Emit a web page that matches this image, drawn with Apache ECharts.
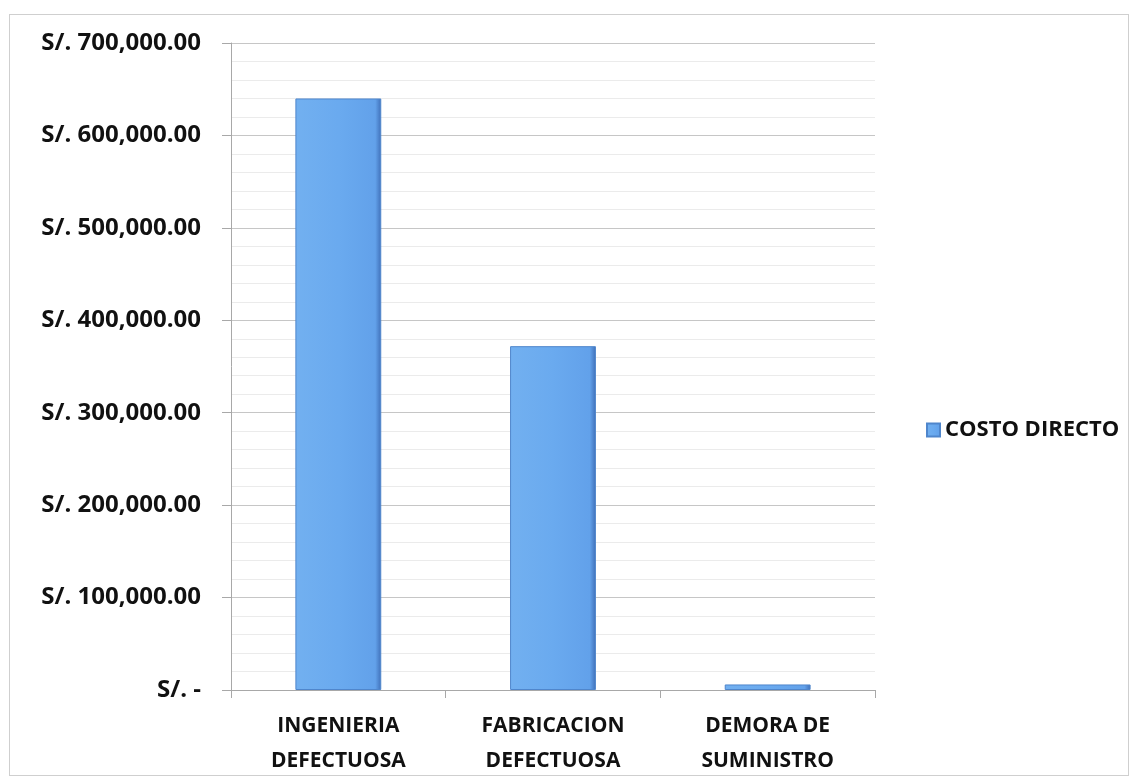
<!DOCTYPE html>
<html>
<head>
<meta charset="utf-8">
<script src="https://cdn.jsdelivr.net/npm/echarts@6/dist/echarts.min.js"></script>
<style>
  html, body { margin: 0; padding: 0; background: #fff; }
  #frame { position: absolute; left: 9px; top: 14px; width: 1120px; height: 762px; border: 1px solid #cfcfcf; box-sizing: border-box; }
  #chart { position: absolute; left: 0; top: 0; width: 1137px; height: 780px; }
</style>
</head>
<body>
<div id="frame"></div>
<div id="chart"></div>
<script>
var categories = ['INGENIERIA\nDEFECTUOSA', 'FABRICACION\nDEFECTUOSA', 'DEMORA DE\nSUMINISTRO'];
var costoDirecto = [640000, 372000, 6000];
var seriesName = 'COSTO DIRECTO';

var chart = echarts.init(document.getElementById('chart'));
var option = {
    animation: false,
    textStyle: { fontFamily: 'Open Sans' },
    grid: { left: 231, right: 262, top: 43, bottom: 90 },
    legend: {
        orient: 'vertical',
        left: 921,
        top: 414,
        itemWidth: 13,
        itemHeight: 13,
        icon: 'rect',
        itemGap: 6,
        textStyle: { fontSize: 22, fontWeight: 'bold', color: '#111' },
        data: [seriesName]
    },
    xAxis: {
        type: 'category',
        data: categories,
        axisLine: { lineStyle: { color: '#a8a8a8', width: 1 } },
        axisTick: { show: true, alignWithLabel: false, length: 8, lineStyle: { color: '#a8a8a8' } },
        axisLabel: { fontSize: 21, fontWeight: 'bold', color: '#111', lineHeight: 35, margin: 19 }
    },
    yAxis: {
        type: 'value',
        min: 0,
        max: 700000,
        interval: 100000,
        axisLine: { show: true, lineStyle: { color: '#a8a8a8' } },
        axisTick: { show: true, inside: false, length: 9, lineStyle: { color: '#a8a8a8' } },
        minorTick: { show: false, splitNumber: 5 },
        minorSplitLine: { show: true, lineStyle: { color: '#ebebeb' } },
        splitLine: { lineStyle: { color: '#c6c6c6' } },
        axisLabel: {
            fontSize: 24, fontWeight: 'bold', color: '#111', margin: 30,
            formatter: function (v) {
                if (v === 0) return 'S/. -';
                return 'S/. ' + v.toLocaleString('en-US', { minimumFractionDigits: 2, maximumFractionDigits: 2 });
            }
        }
    },
    series: [{
        name: seriesName,
        type: 'bar',
        barWidth: '40%',
        data: costoDirecto,
        itemStyle: {
            color: new echarts.graphic.LinearGradient(0, 0, 1, 0, [
                { offset: 0, color: '#72b0f0' },
                { offset: 0.5, color: '#6aaaef' },
                { offset: 0.93, color: '#62a1ea' },
                { offset: 1, color: '#3f6fb8' }
            ]),
            borderColor: '#4f86cc',
            borderWidth: 1
        }
    }]
};
chart.setOption(option);
window.addEventListener('resize', function () { chart.resize(); });
</script>
</body>
</html>
